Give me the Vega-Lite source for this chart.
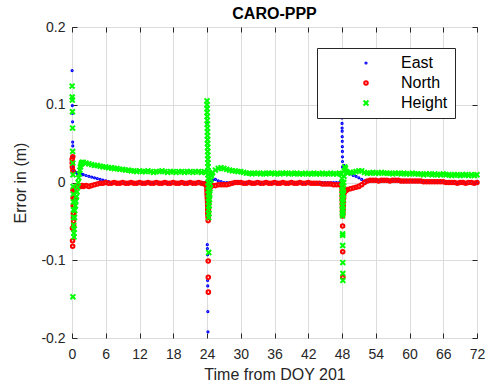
{
"$schema": "https://vega.github.io/schema/vega-lite/v6.json",
"width": 405, "height": 311,
"autosize": {"type": "none"},
"padding": {"left": 72, "top": 27, "right": 13, "bottom": 52},
"background": "white",
"title": {"text": "CARO-PPP", "fontSize": 16, "fontWeight": "bold", "font": "Liberation Sans", "color": "#000000", "offset": -2, "anchor": "middle"},
"data": {"values": [
{"t":0.02,"e":0.144,"n":0.03,"h":0.124},
{"t":0.04,"e":0.107,"n":0.025,"h":0.11},
{"t":0.06,"e":0.099,"n":0.02,"h":0.106},
{"t":0.08,"e":0.089,"n":-0.059,"h":0.091},
{"t":0.1,"e":0.078,"n":-0.075,"h":0.07},
{"t":0.12,"e":0.052,"n":-0.082,"h":0.04},
{"t":0.14,"e":0.047,"n":0.033,"h":0.025},
{"t":0.16,"e":0.033,"n":0.015,"h":-0.147},
{"t":0.18,"e":0.025,"n":-0.01,"h":0.01},
{"t":0.2,"e":0.02,"n":-0.02,"h":-0.005},
{"t":0.22,"n":-0.03,"h":-0.015},
{"t":0.24,"n":-0.04,"h":-0.025},
{"t":0.26,"n":-0.045,"h":-0.035},
{"t":0.28,"n":-0.05,"h":-0.045},
{"t":0.3,"e":0.015,"n":-0.055,"h":-0.055},
{"t":0.33,"n":-0.04,"h":-0.065},
{"t":0.36,"n":-0.03,"h":-0.07},
{"t":0.4,"e":0.014,"n":-0.02,"h":-0.06},
{"t":0.45,"n":-0.012,"h":-0.045},
{"t":0.5,"e":0.013,"n":-0.008,"h":-0.036},
{"t":0.6,"n":-0.006,"h":-0.03},
{"t":0.7,"e":0.013,"n":-0.005,"h":-0.024},
{"t":0.8,"n":-0.005,"h":-0.018},
{"t":0.9,"e":0.012,"n":-0.005,"h":-0.012},
{"t":1.0,"e":0.012,"n":-0.004,"h":-0.006},
{"t":1.1,"h":0},
{"t":1.2,"e":0.012,"n":-0.005,"h":0.006},
{"t":1.3,"h":0.011},
{"t":1.4,"e":0.011,"n":-0.004,"h":0.016},
{"t":1.5,"h":0.02},
{"t":1.6,"e":0.011,"n":-0.005,"h":0.023},
{"t":1.7,"h":0.025},
{"t":1.8,"e":0.01,"n":-0.004,"h":0.026},
{"t":2,"e":0.01,"n":-0.005,"h":0.026},
{"t":2.5,"e":0.009,"n":-0.004,"h":0.025},
{"t":3,"e":0.008,"n":-0.005,"h":0.024},
{"t":3.5,"e":0.007,"n":-0.004,"h":0.023},
{"t":4,"e":0.006,"n":-0.003,"h":0.022},
{"t":4.5,"e":0.005,"n":-0.002,"h":0.022},
{"t":5,"e":0.004,"n":-0.001,"h":0.021},
{"t":5.5,"e":0.003,"n":-0.001,"h":0.02},
{"t":6,"e":0.002,"n":0,"h":0.02},
{"t":6.5,"e":0.001,"n":-0.001,"h":0.019},
{"t":7,"e":0,"n":-0.001,"h":0.019},
{"t":7.5,"e":0,"n":0,"h":0.018},
{"t":8,"e":0,"n":-0.001,"h":0.018},
{"t":8.5,"e":0,"n":-0.001,"h":0.017},
{"t":9,"e":0,"n":0,"h":0.017},
{"t":9.5,"e":-0.001,"n":-0.001,"h":0.016},
{"t":10,"e":0,"n":-0.001,"h":0.016},
{"t":10.5,"e":0,"n":0,"h":0.015},
{"t":11,"e":0,"n":-0.001,"h":0.015},
{"t":11.5,"e":0,"n":-0.001,"h":0.014},
{"t":12,"e":0,"n":0,"h":0.015},
{"t":12.5,"e":0,"n":-0.001,"h":0.014},
{"t":13,"e":0,"n":-0.001,"h":0.014},
{"t":13.5,"e":0,"n":0,"h":0.015},
{"t":14,"e":0,"n":-0.001,"h":0.014},
{"t":14.5,"e":0,"n":-0.001,"h":0.013},
{"t":15,"e":0,"n":0,"h":0.014},
{"t":15.5,"e":0,"n":-0.001,"h":0.014},
{"t":16,"e":0,"n":-0.001,"h":0.015},
{"t":16.5,"e":0,"n":0,"h":0.014},
{"t":17,"e":0,"n":-0.001,"h":0.013},
{"t":17.5,"e":0,"n":-0.001,"h":0.014},
{"t":18,"e":0,"n":0,"h":0.014},
{"t":18.5,"e":0,"n":-0.001,"h":0.013},
{"t":19,"e":0,"n":-0.001,"h":0.014},
{"t":19.5,"e":0,"n":0,"h":0.014},
{"t":20,"e":0,"n":-0.001,"h":0.013},
{"t":20.5,"e":0,"n":-0.001,"h":0.014},
{"t":21,"e":0,"n":0,"h":0.014},
{"t":21.5,"e":0,"n":-0.001,"h":0.013},
{"t":22,"e":0,"n":-0.001,"h":0.014},
{"t":22.5,"e":0,"n":0,"h":0.014},
{"t":23,"e":0,"n":-0.001,"h":0.013},
{"t":23.5,"e":0,"n":-0.002,"h":0.014},
{"t":23.8,"e":0,"n":-0.002,"h":0.013},
{"t":24.0,"e":0.076,"n":-0.004,"h":0.105},
{"t":24.01,"n":-0.006,"h":0.1},
{"t":24.02,"e":0.015,"n":-0.008,"h":0.095},
{"t":24.03,"n":-0.01,"h":0.09},
{"t":24.04,"n":-0.012,"h":0.085},
{"t":24.05,"e":-0.08,"n":-0.014,"h":0.08},
{"t":24.06,"n":-0.016,"h":0.075},
{"t":24.07,"e":-0.085,"n":-0.018,"h":0.07},
{"t":24.08,"n":-0.02,"h":0.065},
{"t":24.09,"e":-0.093,"n":-0.022,"h":0.06},
{"t":24.1,"n":-0.024,"h":0.055},
{"t":24.11,"e":-0.126,"n":-0.026,"h":0.05},
{"t":24.12,"n":-0.028,"h":0.045},
{"t":24.13,"e":-0.133,"n":-0.03,"h":0.04},
{"t":24.14,"n":-0.032,"h":0.035},
{"t":24.15,"e":-0.166,"n":-0.034,"h":0.03},
{"t":24.16,"n":-0.036,"h":0.025},
{"t":24.17,"e":-0.192,"n":-0.038,"h":0.02},
{"t":24.18,"n":-0.04,"h":0.015},
{"t":24.19,"n":-0.042,"h":0.01},
{"t":24.2,"n":-0.045,"h":0.005},
{"t":24.21,"n":-0.049,"h":0},
{"t":24.22,"n":-0.101,"h":-0.005},
{"t":24.23,"n":-0.122,"h":-0.01},
{"t":24.24,"n":-0.141,"h":-0.015},
{"t":24.25,"n":-0.04,"h":-0.02},
{"t":24.26,"n":-0.035,"h":-0.025},
{"t":24.27,"n":-0.03,"h":-0.03},
{"t":24.28,"h":-0.035},
{"t":24.29,"n":-0.025,"h":-0.04},
{"t":24.3,"h":-0.045},
{"t":24.31,"n":-0.02,"h":-0.09},
{"t":24.35,"n":-0.015,"h":-0.04},
{"t":24.4,"n":-0.011,"h":-0.03},
{"t":24.45,"e":0.002,"n":-0.008,"h":-0.022},
{"t":24.5,"n":-0.006,"h":-0.015},
{"t":24.55,"n":-0.005,"h":-0.008},
{"t":24.6,"e":0.003,"n":-0.004,"h":-0.002},
{"t":24.7,"n":-0.004,"h":0.004},
{"t":24.8,"e":0.003,"n":-0.004,"h":0.009},
{"t":24.9,"n":-0.004,"h":0.012},
{"t":25,"e":0.003,"n":-0.004,"h":0.013},
{"t":25.5,"e":0.004,"n":-0.004,"h":0.016},
{"t":26,"e":0.002,"n":-0.003,"h":0.018},
{"t":26.5,"e":0.001,"n":-0.003,"h":0.019},
{"t":27,"e":0,"n":-0.003,"h":0.018},
{"t":27.5,"e":0,"n":-0.003,"h":0.017},
{"t":28,"e":0,"n":-0.002,"h":0.016},
{"t":28.5,"e":0,"n":-0.001,"h":0.015},
{"t":29,"e":0,"n":0,"h":0.015},
{"t":29.5,"e":0,"n":0,"h":0.014},
{"t":30,"e":0,"n":0,"h":0.014},
{"t":30.5,"e":0,"n":-0.001,"h":0.013},
{"t":31,"e":0,"n":-0.001,"h":0.012},
{"t":31.5,"e":0,"n":0,"h":0.012},
{"t":32,"e":0,"n":-0.001,"h":0.011},
{"t":32.5,"e":0,"n":-0.001,"h":0.012},
{"t":33,"e":0,"n":0,"h":0.012},
{"t":33.5,"e":0,"n":-0.001,"h":0.011},
{"t":34,"e":0,"n":-0.001,"h":0.012},
{"t":34.5,"e":0,"n":0,"h":0.011},
{"t":35,"e":0,"n":-0.001,"h":0.012},
{"t":35.5,"e":0,"n":-0.001,"h":0.012},
{"t":36,"e":0,"n":0,"h":0.011},
{"t":36.5,"e":0,"n":-0.001,"h":0.012},
{"t":37,"e":0,"n":-0.001,"h":0.011},
{"t":37.5,"e":0,"n":0,"h":0.012},
{"t":38,"e":0,"n":-0.001,"h":0.012},
{"t":38.5,"e":0,"n":-0.001,"h":0.011},
{"t":39,"e":0,"n":0,"h":0.012},
{"t":39.5,"e":0,"n":-0.001,"h":0.011},
{"t":40,"e":0,"n":-0.001,"h":0.012},
{"t":40.5,"e":0,"n":0,"h":0.011},
{"t":41,"e":0,"n":-0.001,"h":0.011},
{"t":41.5,"e":0,"n":-0.001,"h":0.012},
{"t":42,"e":0,"n":0,"h":0.011},
{"t":42.5,"e":0,"n":-0.001,"h":0.011},
{"t":43,"e":0,"n":-0.001,"h":0.012},
{"t":43.5,"e":0,"n":-0.001,"h":0.011},
{"t":44,"e":0,"n":-0.001,"h":0.011},
{"t":44.5,"e":0,"n":-0.002,"h":0.012},
{"t":45,"e":0,"n":-0.002,"h":0.011},
{"t":45.5,"e":0,"n":-0.002,"h":0.011},
{"t":46,"e":0,"n":-0.002,"h":0.012},
{"t":46.5,"e":0,"n":-0.003,"h":0.011},
{"t":47,"e":0,"n":-0.003,"h":0.011},
{"t":47.5,"e":0,"n":-0.003,"h":0.012},
{"t":47.8,"e":0,"n":-0.003,"h":0.011},
{"t":48.0,"e":0.083,"n":-0.004,"h":0.005},
{"t":48.01,"e":0.076,"n":-0.008,"h":0},
{"t":48.02,"e":0.07,"n":-0.012,"h":-0.005},
{"t":48.03,"e":0.066,"n":-0.016,"h":-0.01},
{"t":48.04,"e":0.059,"n":-0.02,"h":-0.015},
{"t":48.05,"e":0.053,"n":-0.024,"h":-0.02},
{"t":48.06,"e":0.046,"n":-0.028,"h":-0.025},
{"t":48.07,"e":0.04,"n":-0.032,"h":-0.03},
{"t":48.08,"e":0.033,"n":-0.036,"h":-0.035},
{"t":48.09,"e":0.027,"n":-0.04,"h":-0.04},
{"t":48.1,"e":0.02,"n":-0.043,"h":-0.043},
{"t":48.11,"n":-0.056,"h":-0.066},
{"t":48.12,"h":-0.068},
{"t":48.13,"n":-0.089,"h":-0.081},
{"t":48.14,"h":-0.103},
{"t":48.15,"n":-0.122,"h":-0.117},
{"t":48.16,"h":-0.126},
{"t":48.18,"n":-0.04,"h":-0.038},
{"t":48.2,"n":-0.035,"h":-0.03},
{"t":48.22,"n":-0.03,"h":-0.022},
{"t":48.25,"n":-0.025,"h":-0.015},
{"t":48.28,"n":-0.02,"h":-0.008},
{"t":48.3,"n":-0.016,"h":0},
{"t":48.35,"e":0.022,"n":-0.013,"h":0.008},
{"t":48.4,"e":0.02,"n":-0.012,"h":0.015},
{"t":48.5,"e":0.018,"n":-0.012,"h":0.02},
{"t":48.6,"e":0.017,"n":-0.011,"h":0.018},
{"t":48.8,"e":0.015,"n":-0.01,"h":0.014},
{"t":49,"e":0.014,"n":-0.009,"h":0.012},
{"t":49.5,"e":0.011,"n":-0.008,"h":0.013},
{"t":50,"e":0.009,"n":-0.007,"h":0.013},
{"t":50.5,"e":0.008,"n":-0.006,"h":0.014},
{"t":51,"e":0.006,"n":-0.005,"h":0.015},
{"t":51.5,"e":0.004,"n":-0.003,"h":0.015},
{"t":52,"e":0.002,"n":0,"h":0.013},
{"t":52.5,"e":0.002,"n":0.002,"h":0.012},
{"t":53,"e":0.002,"n":0.003,"h":0.012},
{"t":53.5,"e":0.002,"n":0.003,"h":0.013},
{"t":54,"e":0.002,"n":0.003,"h":0.012},
{"t":54.5,"e":0.002,"n":0.002,"h":0.012},
{"t":55,"e":0.002,"n":0.003,"h":0.013},
{"t":55.5,"e":0.002,"n":0.003,"h":0.012},
{"t":56,"e":0.002,"n":0.003,"h":0.012},
{"t":56.5,"e":0.002,"n":0.002,"h":0.012},
{"t":57,"e":0.002,"n":0.003,"h":0.011},
{"t":57.5,"e":0.002,"n":0.003,"h":0.012},
{"t":58,"e":0.002,"n":0.003,"h":0.012},
{"t":58.5,"e":0.001,"n":0.002,"h":0.011},
{"t":59,"e":0.001,"n":0.002,"h":0.012},
{"t":59.5,"e":0.001,"n":0.002,"h":0.011},
{"t":60,"e":0.001,"n":0.002,"h":0.011},
{"t":60.5,"e":0.001,"n":0.002,"h":0.012},
{"t":61,"e":0.001,"n":0.002,"h":0.011},
{"t":61.5,"e":0.001,"n":0.002,"h":0.011},
{"t":62,"e":0.001,"n":0.002,"h":0.011},
{"t":62.5,"e":0,"n":0.001,"h":0.01},
{"t":63,"e":0,"n":0.001,"h":0.011},
{"t":63.5,"e":0,"n":0.001,"h":0.011},
{"t":64,"e":0,"n":0.001,"h":0.01},
{"t":64.5,"e":0,"n":0.001,"h":0.011},
{"t":65,"e":0,"n":0.001,"h":0.01},
{"t":65.5,"e":0,"n":0.001,"h":0.01},
{"t":66,"e":0,"n":0.001,"h":0.011},
{"t":66.5,"e":0,"n":0,"h":0.01},
{"t":67,"e":0,"n":0,"h":0.01},
{"t":67.5,"e":0,"n":0,"h":0.009},
{"t":68,"e":0,"n":0,"h":0.01},
{"t":68.5,"e":0,"n":-0.001,"h":0.01},
{"t":69,"e":0,"n":0,"h":0.009},
{"t":69.5,"e":0,"n":0,"h":0.01},
{"t":70,"e":0,"n":-0.001,"h":0.01},
{"t":70.5,"e":0,"n":0,"h":0.009},
{"t":71,"e":0,"n":0,"h":0.01},
{"t":71.5,"e":0,"n":-0.001,"h":0.009},
{"t":72,"e":0,"n":0,"h":0.01}
]},
"layer": [
{
"mark": {"type": "point", "filled": false, "strokeWidth": 2, "opacity": 1},
"encoding": {
"x": {"field": "t", "type": "quantitative", "scale": {"domain": [0, 72], "nice": false, "zero": false},
 "axis": {"orient": "bottom", "values": [0,6,12,18,24,30,36,42,48,54,60,66,72], "title": "Time from DOY 201", "grid": true, "gridColor": "#dcdcdc", "domain": false, "tickSize": -5, "tickColor": "#262626", "labelPadding": 14, "labelFontSize": 14, "labelFont": "Liberation Sans", "labelColor": "#262626", "labelFlush": false, "labelOverlap": false, "titleFontSize": 16, "titleFont": "Liberation Sans", "titleFontWeight": "normal", "titleColor": "#262626", "titlePadding": 5}},
"y": {"field": "e", "type": "quantitative", "scale": {"domain": [-0.2, 0.2], "nice": false, "zero": false},
 "axis": {"orient": "left", "values": [-0.2,-0.1,0,0.1,0.2], "labelExpr": "datum.value == 0 ? '0' : (datum.value < 0 ? '-' : '') + format(abs(datum.value), '.1f')", "title": "Error in (m)", "grid": true, "gridColor": "#dcdcdc", "domain": false, "tickSize": -5, "tickColor": "#262626", "labelPadding": 12, "labelFontSize": 14, "labelFont": "Liberation Sans", "labelColor": "#262626", "labelFlush": false, "labelOverlap": false, "titleFontSize": 16, "titleFont": "Liberation Sans", "titleFontWeight": "normal", "titleColor": "#262626", "titlePadding": 12}},
"color": {"datum": "East", "type": "nominal", "scale": {"domain": ["East","North","Height"], "range": ["#0000ff","#ff0000","#00ff00"]}, "legend": {"title": null}},
"shape": {"datum": "East", "type": "nominal", "scale": {"domain": ["East","North","Height"], "range": ["circle","circle","M-1,-1L1,1M1,-1L-1,1"]}, "legend": {"title": null}},
"size": {"datum": "East", "type": "nominal", "scale": {"domain": ["East","North","Height"], "range": [1.5, 24, 20]}, "legend": {"title": null}}
}
},
{
"mark": {"type": "point", "filled": false, "strokeWidth": 2, "opacity": 1},
"encoding": {
"x": {"field": "t", "type": "quantitative", "axis": {"orient": "top", "values": [0,6,12,18,24,30,36,42,48,54,60,66,72], "labels": false, "grid": false, "domain": false, "tickSize": -5, "tickColor": "#262626", "title": null}},
"y": {"field": "n", "type": "quantitative", "axis": {"orient": "right", "values": [-0.2,-0.1,0,0.1,0.2], "labels": false, "grid": false, "domain": false, "tickSize": -5, "tickColor": "#262626", "title": null}},
"color": {"datum": "North", "type": "nominal"},
"shape": {"datum": "North", "type": "nominal"},
"size": {"datum": "North", "type": "nominal"}
}
},
{
"mark": {"type": "point", "filled": false, "strokeWidth": 2, "opacity": 1},
"encoding": {
"x": {"field": "t", "type": "quantitative", "axis": null},
"y": {"field": "h", "type": "quantitative", "axis": null},
"color": {"datum": "Height", "type": "nominal"},
"shape": {"datum": "Height", "type": "nominal"},
"size": {"datum": "Height", "type": "nominal"}
}
}
],
"resolve": {"axis": {"x": "independent", "y": "independent"}},
"config": {
"view": {"stroke": "#262626", "strokeWidth": 1},
"font": "Liberation Sans",
"legend": {"orient": "none", "legendX": 245, "legendY": 21, "fillColor": "white", "strokeColor": "#262626", "padding": 7, "labelFont": "Liberation Sans", "labelFontSize": 16, "labelColor": "#000000", "rowPadding": 4, "symbolOffset": 34, "labelOffset": 27, "symbolStrokeWidth": 2, "symbolType": "circle"}
}
}
